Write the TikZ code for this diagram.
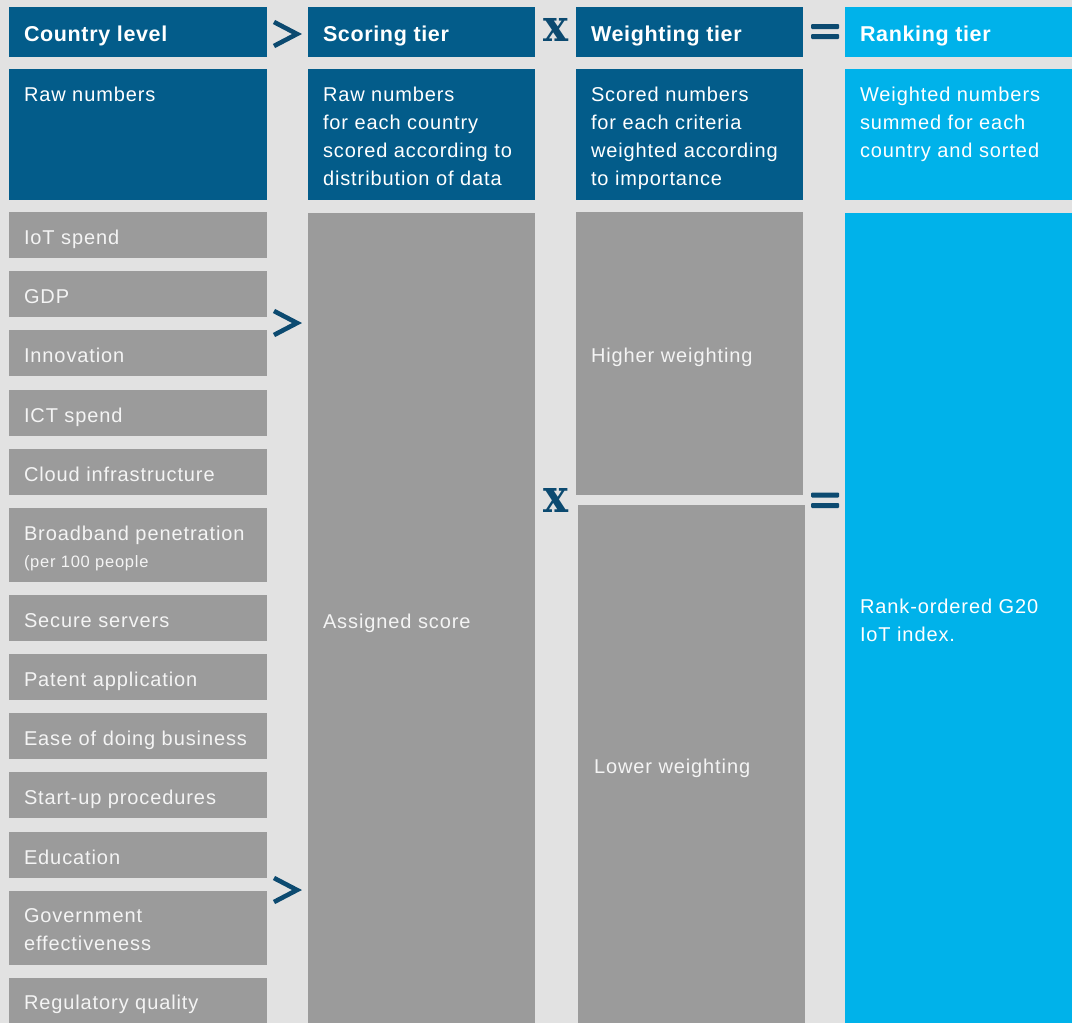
\documentclass[tikz,border=0pt]{standalone}
\usepackage{fontspec}
\setmainfont{Liberation Sans}[LetterSpace=4.5]
\newfontfamily\boldhead{Liberation Sans Bold}[LetterSpace=3]
\newfontfamily\opfont{DejaVu Serif}
\definecolor{bgc}{HTML}{E2E2E2}
\definecolor{dkb}{HTML}{035C8A}
\definecolor{ltb}{HTML}{00B2EA}
\definecolor{gry}{HTML}{9B9B9B}
\definecolor{opc}{HTML}{0C4A70}
\definecolor{wtx}{HTML}{F4F4F4}
\newcommand\mybox[6]{\node[#1, minimum width=#4pt, minimum height=#5pt, anchor=north west] (#6) at (#2,#3) {};}
\newcommand\mytxt[5]{\node[#1, anchor=north west] (#2) at (#3,#4-19.6) {\strut#5};}
\begin{document}
\begin{tikzpicture}[x=1pt,y=-1pt,
  boxbase/.style={inner sep=0pt, outer sep=0pt, draw=none},
  darkbox/.style={boxbase, fill=dkb},
  lightbox/.style={boxbase, fill=ltb},
  greybox/.style={boxbase, fill=gry},
  txt/.style={inner sep=0pt, outer sep=0pt, align=left, text=white, font=\fontsize{20}{28}\selectfont},
  gtxt/.style={txt, text=wtx},
  htxt/.style={txt, font=\fontsize{21.5}{28}\selectfont\boldhead},
  chev/.style={draw=opc, line width=4.6pt, line join=miter, line cap=butt},
  eqbar/.style={fill=opc, rounded corners=1pt}
]
\fill[bgc] (0,0) rectangle (1072,1023);
\useasboundingbox (0,0) rectangle (1072,1023);

% header row
\mybox{darkbox}{9}{7}{258}{50}{h1}
\mybox{darkbox}{308}{7}{227}{50}{h2}
\mybox{darkbox}{576}{7}{227}{50}{h3}
\mybox{lightbox}{845}{7}{227}{50}{h4}
\mytxt{htxt}{ht1}{24}{41}{Country level}
\mytxt{htxt}{ht2}{323}{41}{Scoring tier}
\mytxt{htxt}{ht3}{591}{41}{Weighting tier}
\mytxt{htxt}{ht4}{860}{41}{Ranking tier}

% description row
\mybox{darkbox}{9}{69}{258}{131}{d1}
\mybox{darkbox}{308}{69}{227}{131}{d2}
\mybox{darkbox}{576}{69}{227}{131}{d3}
\mybox{lightbox}{845}{69}{227}{131}{d4}
\mytxt{txt}{dt1}{24}{101}{Raw numbers}
\mytxt{txt}{dt2}{323}{101}{Raw numbers\\for each country\\scored according to\\distribution of data}
\mytxt{txt}{dt3}{591}{101}{Scored numbers\\for each criteria\\weighted according\\to importance}
\mytxt{txt}{dt4}{860}{101}{Weighted numbers\\summed for each\\country and sorted}

% country-level items
\mybox{greybox}{9}{212}{258}{46}{c1}
\mybox{greybox}{9}{271}{258}{46}{c2}
\mybox{greybox}{9}{330}{258}{46}{c3}
\mybox{greybox}{9}{390}{258}{46}{c4}
\mybox{greybox}{9}{449}{258}{46}{c5}
\mybox{greybox}{9}{508}{258}{74}{c6}
\mybox{greybox}{9}{595}{258}{46}{c7}
\mybox{greybox}{9}{654}{258}{46}{c8}
\mybox{greybox}{9}{713}{258}{46}{c9}
\mybox{greybox}{9}{772}{258}{46}{c10}
\mybox{greybox}{9}{832}{258}{46}{c11}
\mybox{greybox}{9}{891}{258}{74}{c12}
\mybox{greybox}{9}{978}{258}{46}{c13}
\mytxt{gtxt}{ct1}{24}{244}{IoT spend}
\mytxt{gtxt}{ct2}{24}{303}{GDP}
\mytxt{gtxt}{ct3}{24}{362}{Innovation}
\mytxt{gtxt}{ct4}{24}{422}{ICT spend}
\mytxt{gtxt}{ct5}{24}{481}{Cloud infrastructure}
\mytxt{gtxt}{ct6}{24}{540}{Broadband penetration}
\node[gtxt, font=\fontsize{16.5}{18}\selectfont, anchor=base west] (ct6b) at (24,567) {(per 100 people};
\mytxt{gtxt}{ct7}{24}{627}{Secure servers}
\mytxt{gtxt}{ct8}{24}{686}{Patent application}
\mytxt{gtxt}{ct9}{24}{745}{Ease of doing business}
\mytxt{gtxt}{ct10}{24}{804}{Start-up procedures}
\mytxt{gtxt}{ct11}{24}{864}{Education}
\mytxt{gtxt}{ct12}{24}{922}{Government\\effectiveness}
\mytxt{gtxt}{ct13}{24}{1009}{Regulatory quality}

% tall columns
\mybox{greybox}{308}{213}{227}{810}{sc}
\mybox{greybox}{576}{212}{227}{283}{wh}
\mybox{greybox}{578}{505}{227}{518}{wl}
\mybox{lightbox}{845}{213}{227}{810}{rk}
\mytxt{gtxt}{sct}{323}{628}{Assigned score}
\mytxt{gtxt}{wht}{591}{362}{Higher weighting}
\mytxt{gtxt}{wlt}{594}{773}{Lower weighting}
\mytxt{txt}{rkt}{860}{613}{Rank-ordered G20\\IoT index.}

% operators: greater-than chevrons
\draw[chev] (274,22) -- (297,34) -- (274,46);
\draw[chev] (274,311) -- (297,323) -- (274,335);
\draw[chev] (274,878) -- (297,890) -- (274,902);
% multiplication signs
\node[inner sep=0pt, text=opc, anchor=south] (x1) at (555.5,42) {\resizebox{25pt}{23pt}{\opfont\bfseries x}};
\node[inner sep=0pt, text=opc, anchor=south] (x2) at (555.5,513) {\resizebox{25pt}{24pt}{\opfont\bfseries x}};
% equals signs
\fill[eqbar] (811,24) rectangle (839,29);
\fill[eqbar] (811,34) rectangle (839,39);
\fill[eqbar] (811,492.5) rectangle (839,497.5);
\fill[eqbar] (811,503) rectangle (839,508);
\end{tikzpicture}
\end{document}
